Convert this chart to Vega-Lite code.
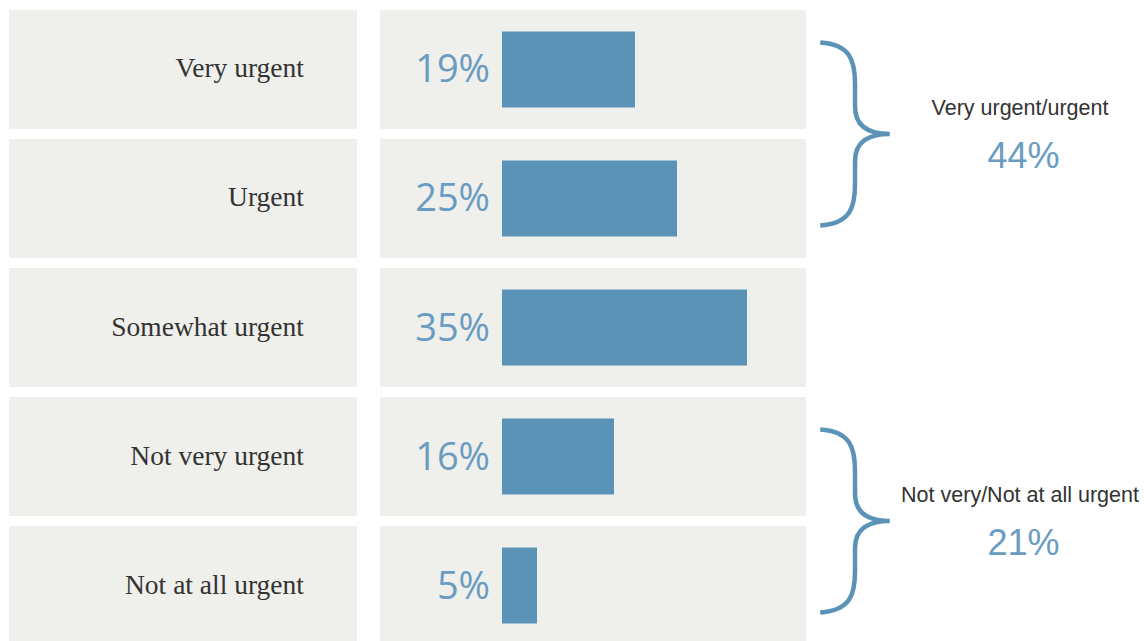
{
  "$schema": "https://vega.github.io/schema/vega-lite/v6.json",
  "width": 1144,
  "height": 641,
  "autosize": {"type": "none"},
  "padding": 0,
  "background": "#ffffff",
  "config": {"view": {"stroke": null}},
  "datasets": {
    "rows": [
      {"cat": "Very urgent", "value": 0.19},
      {"cat": "Urgent", "value": 0.25},
      {"cat": "Somewhat urgent", "value": 0.35},
      {"cat": "Not very urgent", "value": 0.16},
      {"cat": "Not at all urgent", "value": 0.05}
    ],
    "groups": [
      {"cat": "Very urgent", "label": "Very urgent/urgent", "value": 0.44},
      {"cat": "Not very urgent", "label": "Not very/Not at all urgent", "value": 0.21}
    ]
  },
  "layer": [
    {
      "data": {"name": "rows"},
      "mark": {"type": "rect", "color": "#efefeb"},
      "encoding": {
        "y": {"field": "cat", "type": "nominal", "scale": {"domain": ["Very urgent", "Urgent", "Somewhat urgent", "Not very urgent", "Not at all urgent"], "range": [10, 645], "paddingInner": 0.078, "paddingOuter": 0}, "axis": null},
        "x": {"datum": -0.7043, "type": "quantitative", "scale": {"domain": [-0.71714, 0.91714], "zero": false, "nice": false}, "axis": null},
        "x2": {"datum": -0.2071}
      }
    },
    {
      "data": {"name": "rows"},
      "mark": {"type": "rect", "color": "#efefeb"},
      "encoding": {
        "y": {"field": "cat", "type": "nominal"},
        "x": {"datum": -0.1743, "type": "quantitative"},
        "x2": {"datum": 0.4343}
      }
    },
    {
      "data": {"name": "rows"},
      "mark": {"type": "bar", "color": "#5b93b8", "height": {"band": 0.64}},
      "encoding": {
        "y": {"field": "cat", "type": "nominal"},
        "x": {"field": "value", "type": "quantitative"}
      }
    },
    {
      "data": {"name": "rows"},
      "mark": {"type": "text", "align": "right", "baseline": "middle", "font": "Liberation Serif", "fontSize": 27.5, "color": "#333333"},
      "encoding": {
        "y": {"field": "cat", "type": "nominal"},
        "x": {"datum": -0.2829, "type": "quantitative"},
        "text": {"field": "cat", "type": "nominal"}
      }
    },
    {
      "data": {"name": "rows"},
      "mark": {"type": "text", "align": "right", "baseline": "middle", "font": "Open Sans", "fontSize": 38, "color": "#6a9cc2", "dy": 2},
      "encoding": {
        "y": {"field": "cat", "type": "nominal"},
        "x": {"datum": -0.0171, "type": "quantitative"},
        "text": {"field": "value", "type": "quantitative", "format": ".0%"}
      }
    },
    {
      "data": {"name": "groups"},
      "mark": {
        "type": "point",
        "filled": false,
        "stroke": "#5b93b8",
        "strokeWidth": 4.5,
        "opacity": 1,
        "size": 33489,
        "yOffset": 5,
        "shape": "M -0.38 -1 C -0.05 -0.98 0 -0.8 0 -0.55 L 0 -0.3 C 0 -0.08 0.15 0 0.38 0 C 0.15 0 0 0.08 0 0.3 L 0 0.55 C 0 0.8 -0.05 0.98 -0.38 1"
      },
      "encoding": {
        "x": {"datum": 0.5043, "type": "quantitative"},
        "y": {"field": "cat", "type": "nominal", "bandPosition": 1}
      }
    },
    {
      "data": {"name": "groups"},
      "mark": {"type": "text", "align": "center", "baseline": "middle", "font": "Liberation Sans", "fontSize": 21.5, "color": "#333333", "yOffset": -20},
      "encoding": {
        "x": {"datum": 0.74, "type": "quantitative"},
        "y": {"field": "cat", "type": "nominal", "bandPosition": 1},
        "text": {"field": "label", "type": "nominal"}
      }
    },
    {
      "data": {"name": "groups"},
      "mark": {"type": "text", "align": "center", "baseline": "middle", "font": "Liberation Sans", "fontSize": 36, "color": "#6a9cc2", "yOffset": 28},
      "encoding": {
        "x": {"datum": 0.745, "type": "quantitative"},
        "y": {"field": "cat", "type": "nominal", "bandPosition": 1},
        "text": {"field": "value", "type": "quantitative", "format": ".0%"}
      }
    }
  ]
}
